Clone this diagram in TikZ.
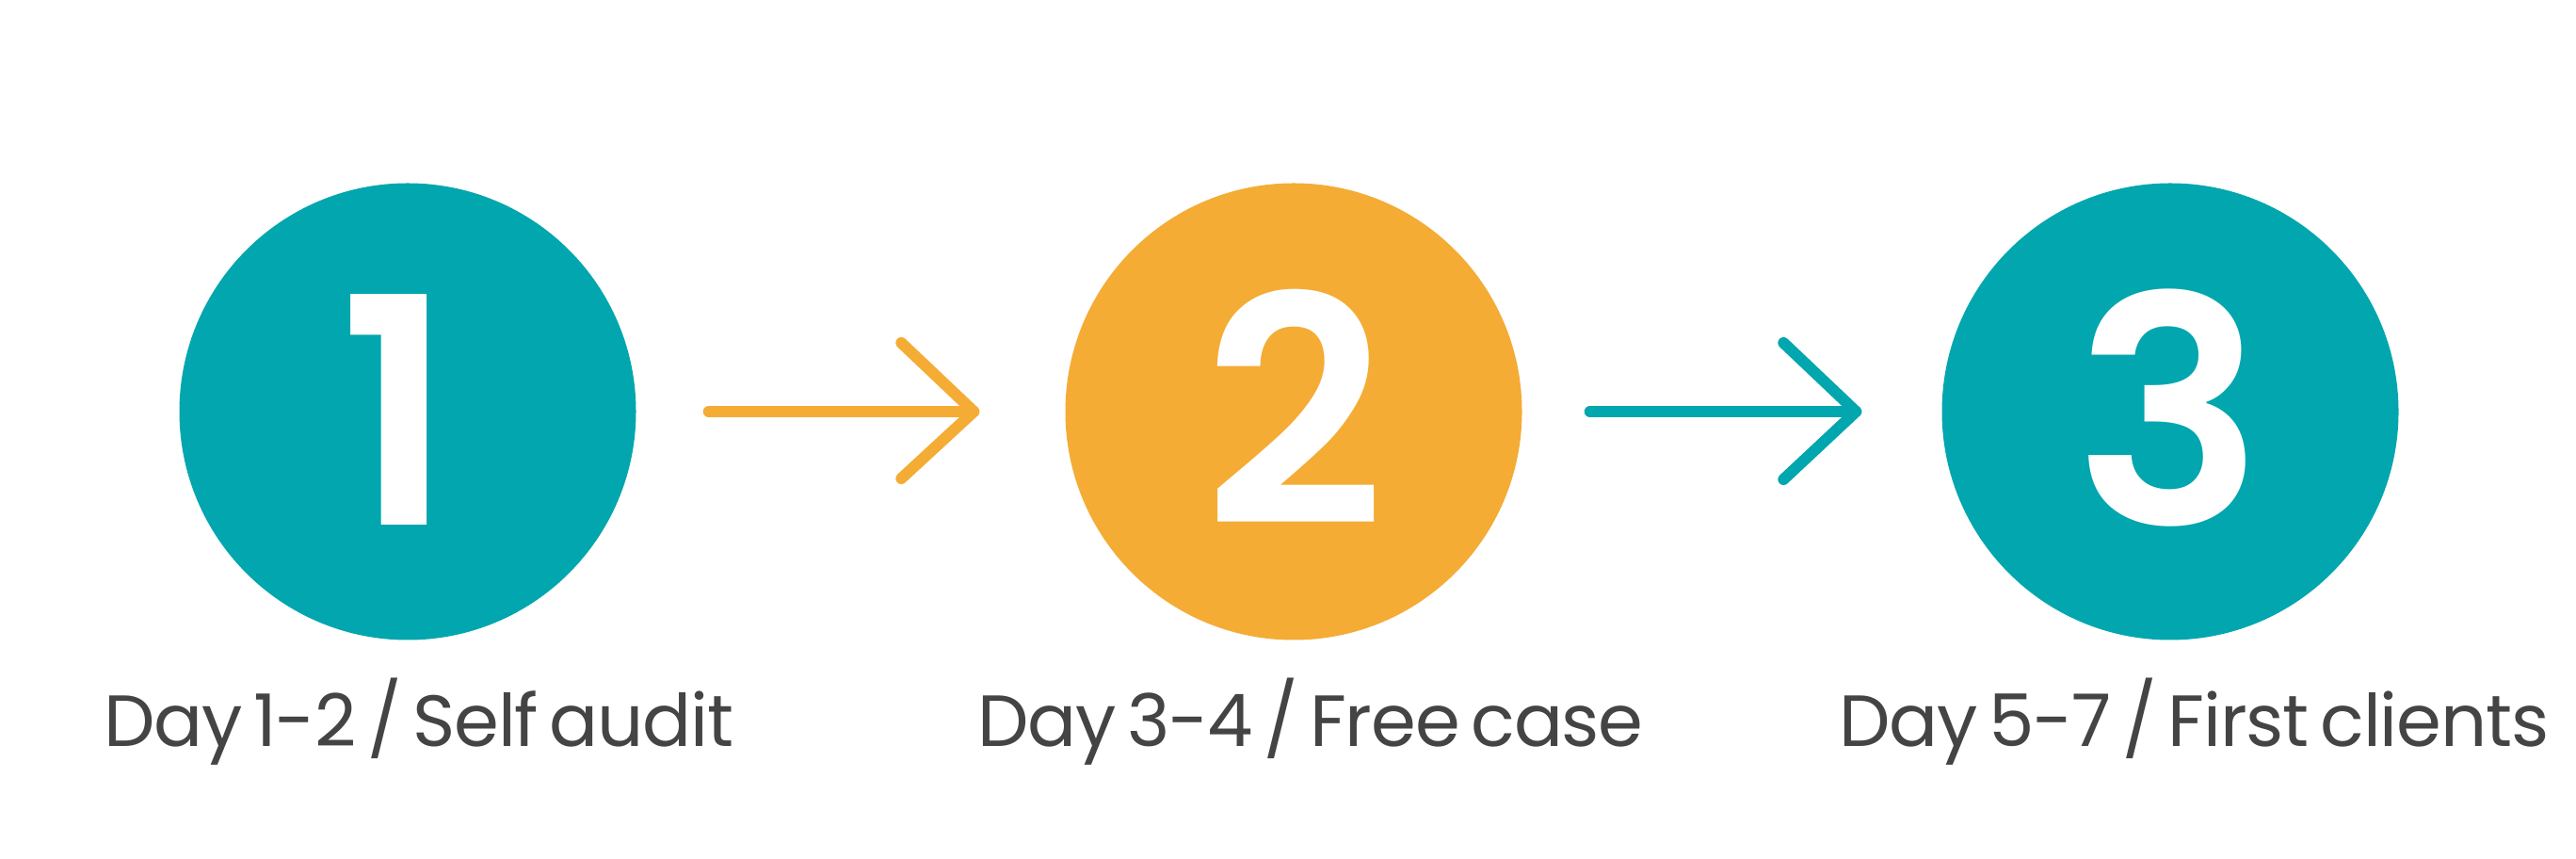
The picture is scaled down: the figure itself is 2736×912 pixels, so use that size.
\documentclass[tikz,border=0pt]{standalone}
\usepackage{fontspec}
\setmainfont{Poppins}[Numbers=Proportional]
\IfFontExistsTF{Poppins SemiBold}
  {\newfontfamily\digitfont{Poppins SemiBold}}
  {\newfontfamily\digitfont{Poppins}[FakeBold=1.5]}
\newfontfamily\labelfont{Poppins}[Numbers=Proportional, WordSpace=0.6, LetterSpace=-1.5]
\usetikzlibrary{calc}
\definecolor{tealc}{HTML}{02A6AE}
\definecolor{orangec}{HTML}{F4AC35}
\definecolor{txtc}{HTML}{444444}
\tikzset{
  stepcircle/.style={circle, inner sep=0pt, minimum size=485pt},
  digit/.style={text=white, anchor=base, font=\digitfont\fontsize{336}{336}\selectfont},
  label/.style={text=txtc, anchor=base west, inner sep=0pt, font=\labelfont\fontsize{77}{77}\selectfont},
  arrowline/.style={line width=12pt, line cap=round, line join=round},
}
\begin{document}
\begin{tikzpicture}[x=1pt,y=1pt]
\useasboundingbox (0,0) rectangle (2736,912);
\fill[white] (0,0) rectangle (2736,912);
% circles (image y -> 912 - y)
\node[stepcircle, fill=tealc] (c1) at (433,475) {};
\node[stepcircle, fill=orangec] (c2) at (1374,475) {};
\node[stepcircle, fill=tealc] (c3) at (2305,475) {};
% digits
\node[digit] (d1) at (421,354) {1};
\node[digit] (d2) at (1375,354) {2};
\node[digit] (d3) at (2304,354) {3};
% labels
\node[label] (t1) at (110,119) {Day 1-2 / Self audit};
\node[label] (t2) at (1038,119) {Day 3-4 / Free case};
\node[label] (t3) at (1953,119) {Day 5-7 / First clients};
% arrows
\coordinate (a1s) at ($(c1.east)+(77,0)$);
\coordinate (a1e) at ($(c2.west)-(97,0)$);
\draw[arrowline, orangec] (a1s) -- (a1e);
\draw[arrowline, orangec] ($(a1e)+(-77,73)$) -- (a1e) -- ($(a1e)+(-77,-71)$);
\coordinate (a2s) at ($(c2.east)+(72,0)$);
\coordinate (a2e) at ($(c3.west)-(91,0)$);
\draw[arrowline, tealc] (a2s) -- (a2e);
\draw[arrowline, tealc] ($(a2e)+(-77,73)$) -- (a2e) -- ($(a2e)+(-77,-72)$);
\end{tikzpicture}
\end{document}
